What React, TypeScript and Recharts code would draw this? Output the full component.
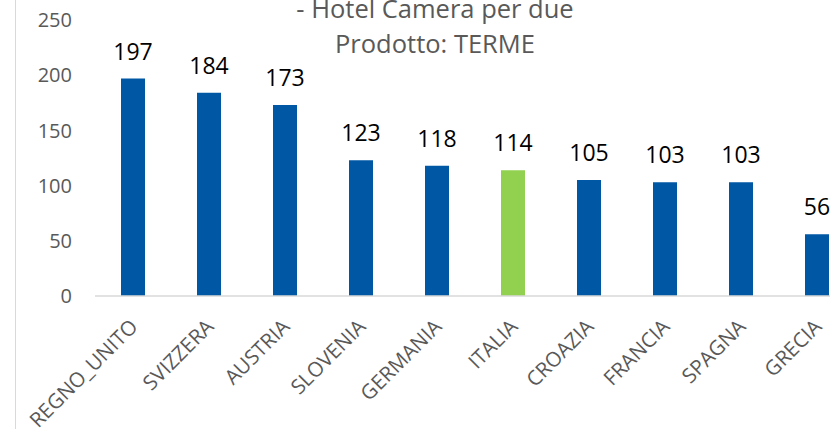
import React from 'react';
import { BarChart, Bar, XAxis, YAxis, LabelList, Cell } from 'recharts';

const countries = ['REGNO_UNITO', 'SVIZZERA', 'AUSTRIA', 'SLOVENIA', 'GERMANIA', 'ITALIA', 'CROAZIA', 'FRANCIA', 'SPAGNA', 'GRECIA'];
const values = [197, 184, 173, 123, 118, 114, 105, 103, 103, 56];
const yTicks = [0, 50, 100, 150, 200, 250];
const titleLines = ['- Hotel Camera per due', 'Prodotto: TERME'];

const BLUE = '#0057A4';
const GREEN = '#92D050';
const AXIS_TEXT = '#595959';
const FONT = '"Open Sans", sans-serif';

const data = countries.map((name, i) => ({ name, value: values[i] }));

const RotatedTick = (props: any) => {
  const { x, y, payload } = props;
  const ax = x + 6;
  const ay = y + 32;
  return (
    <text
      x={ax}
      y={ay}
      textAnchor="end"
      fill={AXIS_TEXT}
      fontSize={20.5}
      fontFamily={FONT}
      transform={`rotate(-45, ${ax}, ${ay})`}
    >
      {payload.value}
    </text>
  );
};

const App: React.FC = () => {
  return (
    <div style={{ position: 'absolute', left: 0, top: 0, width: 830, height: 429, overflow: 'hidden', background: '#fff' }}>
      <div style={{ position: 'absolute', left: 15, top: 0, width: 0, height: 429, borderLeft: '1.5px solid #d9d9d9' }} />
      <div
        style={{
          position: 'absolute',
          left: 235,
          width: 400,
          top: -9,
          textAlign: 'center',
          fontFamily: FONT,
          fontSize: 25.5,
          lineHeight: '35px',
          color: AXIS_TEXT,
        }}
      >
        {titleLines.map((t) => (
          <div key={t}>{t}</div>
        ))}
      </div>
      <div style={{ position: 'absolute', left: 0, top: 0 }}>
        <BarChart width={870} height={429} data={data} margin={{ top: 20, right: 15, left: 0, bottom: 0 }} barCategoryGap={0}>
          <XAxis
            dataKey="name"
            interval={0}
            height={133}
            tickLine={false}
            tickSize={0}
            tickMargin={0}
            axisLine={{ stroke: '#d9d9d9', strokeWidth: 1.5 }}
            tick={<RotatedTick />}
          />
          <YAxis
            width={95}
            domain={[0, 250]}
            ticks={yTicks}
            interval={0}
            axisLine={false}
            tickLine={false}
            tickSize={0}
            tickMargin={23}
            tick={{ fill: AXIS_TEXT, fontSize: 20, fontFamily: FONT }}
          />
          <Bar dataKey="value" barSize={24} isAnimationActive={false}>
            {data.map((d) => (
              <Cell key={d.name} fill={d.name === 'ITALIA' ? GREEN : BLUE} />
            ))}
            <LabelList dataKey="value" position="top" offset={19} fill="#000" fontSize={23} fontFamily={FONT} />
          </Bar>
        </BarChart>
      </div>
    </div>
  );
};

export default App;
